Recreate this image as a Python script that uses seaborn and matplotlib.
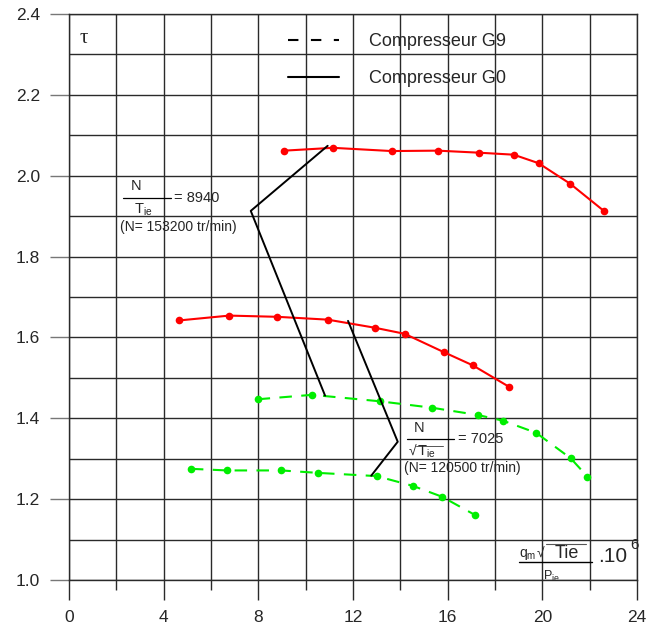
import numpy as np
import matplotlib
matplotlib.use("Agg")
import matplotlib.pyplot as plt
from matplotlib.lines import Line2D
import seaborn as sns

# compresseur G0 (red, solid)
g0_high_x = [9.10, 11.15, 13.63, 15.58, 17.31, 18.79, 19.84, 21.18, 22.62]
g0_high_y = [2.062, 2.069, 2.061, 2.062, 2.057, 2.052, 2.031, 1.980, 1.912]
g0_low_x = [4.65, 6.77, 8.80, 10.93, 12.92, 14.18, 15.86, 17.06, 18.59]
g0_low_y = [1.642, 1.654, 1.651, 1.644, 1.624, 1.609, 1.563, 1.531, 1.478]

# compresseur G9 (green, dashed)
g9_high_x = [7.97, 10.27, 13.14, 15.35, 17.29, 18.34, 19.74, 21.20, 21.90]
g9_high_y = [1.447, 1.458, 1.442, 1.426, 1.408, 1.394, 1.364, 1.301, 1.256]
g9_low_x = [5.15, 6.68, 8.97, 10.51, 13.00, 14.52, 15.76, 17.15]
g9_low_y = [1.275, 1.271, 1.271, 1.265, 1.257, 1.233, 1.206, 1.161]

# leader lines of the two speed labels
lead_high_x = [10.93, 7.68, 10.82]
lead_high_y = [2.074, 1.913, 1.456]
lead_low_x = [11.79, 13.89, 12.77]
lead_low_y = [1.641, 1.342, 1.258]

sns.set_theme(style="white")
plt.rcParams["font.family"] = ["Liberation Sans", "DejaVu Sans"]
plt.rcParams["mathtext.fontset"] = "custom"
plt.rcParams["mathtext.rm"] = "Liberation Sans"
plt.rcParams["mathtext.it"] = "Liberation Sans"

fig = plt.figure(figsize=(6.6, 6.3), dpi=100)
ax = fig.add_axes([69 / 660, 50 / 630, 568 / 660, 566 / 630])

RED = "#ff0000"
GREEN = "#00ee00"
for xs, ys in [(g0_high_x, g0_high_y), (g0_low_x, g0_low_y)]:
    sns.lineplot(x=xs, y=ys, ax=ax, color=RED, lw=1.5, marker="o",
                 markersize=5.5, markeredgewidth=0, sort=False)
for xs, ys in [(g9_high_x, g9_high_y), (g9_low_x, g9_low_y)]:
    sns.lineplot(x=xs, y=ys, ax=ax, color=GREEN, lw=1.5, marker="o",
                 markersize=5.5, markeredgewidth=0, sort=False,
                 linestyle=(0, (6, 4.5)))

ax.plot(lead_high_x, lead_high_y, color="black", lw=1.4)
ax.plot(lead_low_x, lead_low_y, color="black", lw=1.4)

ax.set_xlim(0, 24)
ax.set_ylim(1.0, 2.4)
ax.set_xticks(np.arange(0, 25, 4))
ax.set_xticks(np.arange(0, 25, 2), minor=True)
ax.set_yticks(np.round(np.arange(1.0, 2.41, 0.2), 1))
ax.set_yticks(np.round(np.arange(1.0, 2.41, 0.1), 1), minor=True)
ax.yaxis.set_major_formatter(matplotlib.ticker.FormatStrFormatter("%.1f"))
ax.grid(True, which="both", color="#2a2a2a", lw=1.0)
ax.set_axisbelow(True)
for s in ax.spines.values():
    s.set_color("#2a2a2a")
    s.set_linewidth(1.0)
ax.tick_params(axis="x", which="major", direction="out", length=14.4, width=1,
               color="#2a2a2a", labelsize=12.5, pad=7.5, bottom=True)
ax.tick_params(axis="x", which="minor", direction="out", length=7.2, width=1,
               color="#2a2a2a", bottom=True)
ax.tick_params(axis="y", which="major", direction="out", length=13.7, width=1,
               color="#777777", labelsize=12.5, pad=7, left=True)
ax.tick_params(axis="y", which="minor", length=0)
ax.set_xlabel("")
ax.set_ylabel("")

ax.text(0.63, 2.339, "τ", family="Liberation Serif", fontsize=15,
        ha="center", va="center")

handles = [Line2D([], [], color="black", lw=1.5, linestyle=(0, (5, 6))),
           Line2D([], [], color="black", lw=1.5)]
ax.legend(handles, ["Compresseur G9", "Compresseur G0"], loc="upper left",
          bbox_to_anchor=(0.386, 0.966), frameon=False, fontsize=13,
          handlelength=2.8, handletextpad=1.7, labelspacing=1.1,
          borderpad=0, borderaxespad=0)

fs = 10.5
# N/Tie = 8940 label
ax.text(2.82, 1.975, "N", fontsize=fs, ha="center", va="center")
ax.plot([2.27, 4.30], [1.944, 1.944], color="black", lw=0.9)
ax.text(4.44, 1.945, "= 8940", fontsize=fs, ha="left", va="center")
ax.text(2.75, 1.915, r"$\mathrm{T_{ie}}$", fontsize=fs, ha="left", va="center")
ax.text(2.15, 1.873, "(N= 153200 tr/min)", fontsize=10, ha="left", va="center")

# N/sqrt(Tie) = 7025 label
ax.text(14.80, 1.375, "N", fontsize=fs, ha="center", va="center")
ax.plot([14.27, 16.27], [1.348, 1.348], color="black", lw=0.9)
ax.text(16.45, 1.349, "= 7025", fontsize=fs, ha="left", va="center")
ax.text(14.36, 1.317, "√", fontsize=10, ha="left", va="center")
ax.text(14.70, 1.316, r"$\mathrm{T_{ie}}$", fontsize=fs, ha="left", va="center")
ax.plot([14.65, 15.80], [1.331, 1.331], color="#555555", lw=0.7)
ax.text(14.15, 1.276, "(N= 120500 tr/min)", fontsize=10, ha="left", va="center")

# x axis quantity
ax.text(19.01, 1.062, r"$\mathrm{q_m}$", fontsize=10, ha="left", va="center")
ax.text(19.75, 1.064, "√", fontsize=10, ha="left", va="center")
ax.text(20.50, 1.066, "Tie", fontsize=13, ha="left", va="center")
ax.plot([20.15, 21.84], [1.089, 1.089], color="#555555", lw=0.8)
ax.plot([19.01, 22.08], [1.044, 1.044], color="black", lw=1.0)
ax.text(20.03, 1.010, r"$\mathrm{P_{ie}}$", fontsize=9, ha="left", va="center")
ax.text(22.35, 1.057, ".10", fontsize=15, ha="left", va="center")
ax.text(23.70, 1.086, "6", fontsize=11, ha="left", va="center")

fig.savefig("out.png", dpi=100)
